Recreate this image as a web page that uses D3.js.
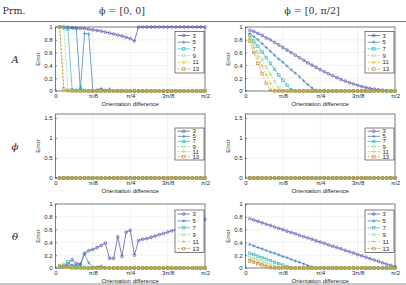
<!DOCTYPE html>
<html><head><meta charset="utf-8">
<script src="https://cdn.jsdelivr.net/npm/d3@7"></script>
<style>body{margin:0;background:#fff}svg{display:block}</style>
</head><body>
<svg id="c" width="406" height="285"></svg>
<script>
// ---------- data ----------
const seriesNames = ["3","5","7","9","11","13"];
const colors = ["#4646a8","#2f7bbf","#3bb3b3","#8fd48c","#d4c02a","#c4893c"];
const markers = ["circle","plus","square","circle","plus","square"];
const dashed = [false,false,false,true,true,true];
const xDeg = d3.range(1,37).map(k=>k*2.5); // 2.5°,5°,...,90°
const xTickLabels = ["0","\u03c0/8","\u03c0/4","3\u03c0/8","\u03c0/2"];
const yTicksA = [0,0.2,0.4,0.6,0.8,1];
const yTicksPhi = [0,0.5,1,1.5];
const colHeaders = ["\u03d5 = [0, 0]","\u03d5 = [0, \u03c0/2]"];
const rowLabels = ["A","\u03d5","\u03b8"];
const z = n => Array(n).fill(0);

// A, phi=[0,0]
const A00 = [
 [1,1,0.995,0.99,0.985,0.98,0.975,0.965,0.955,0.945,0.935,0.92,0.905,0.89,0.875,0.86,0.84,0.82,0.78,1,1,1,1,1,1,1,1,1,1,1,1,1,1,1,1,1],
 [1,0.99,0.99,0.98,0.97,0.02,0.9,0.89,0,0.02,0.04,0.01,0.03].concat(z(23)),
 [1,0.99,0.97,0.02,0.01,0.05,0.01].concat(z(29)),
 [1,0.97,0].concat(z(33)),
 [1,0].concat(z(34)),
 [1,0.03,0.01].concat(z(33))
];
// A, phi=[0,pi/2]
const A0p = [
 [0.95,0.93,0.9,0.87,0.83,0.8,0.76,0.72,0.68,0.64,0.6,0.56,0.52,0.48,0.44,0.405,0.37,0.335,0.3,0.27,0.24,0.21,0.18,0.155,0.13,0.11,0.09,0.07,0.055,0.04,0.03,0.02,0.012,0.005,0,0],
 [0.9,0.85,0.8,0.74,0.68,0.62,0.56,0.5,0.45,0.39,0.33,0.28,0.22,0.16,0.1,0.05,0.01].concat(z(19)),
 [0.87,0.78,0.7,0.61,0.52,0.43,0.34,0.25,0.17,0.09,0.02].concat(z(25)),
 [0.84,0.73,0.61,0.49,0.37,0.26,0.15,0.05,0].concat(z(27)),
 [0.82,0.68,0.53,0.39,0.25,0.12,0.02].concat(z(29)),
 [0.78,0.6,0.43,0.27,0.12,0.01].concat(z(30))
];
// phi rows: all zero
const P00 = seriesNames.map(()=>z(36));
const P0p = seriesNames.map(()=>z(36));
// theta, phi=[0,0]
const T00 = [
 [0.02,0.03,0.06,0.13,0.07,0.06,0.23,0.27,0.29,0.32,0.35,0.39,0.15,0.15,0.49,0.18,0.56,0.59,0.2,0.43,0.45,0.46,0.48,0.5,0.52,0.54,0.56,0.58,0.6,0.62,0.64,0.66,0.68,0.7,0.72,0.76],
 [0.01,0.02,0.03,0.05,0.04,0.05,0.22,0.08,0.01,0.02,0.03,0.01].concat(z(24)),
 [0.01,0.04,0.1,0.03,0.02,0.02,0.01].concat(z(29)),
 [0.02,0.06,0.02,0.01].concat(z(32)),
 [0.02,0.02,0.01].concat(z(33)),
 [0.04,0.02,0.01].concat(z(33))
];
// theta, phi=[0,pi/2]
const T0p = [
 [0.77,0.75,0.73,0.705,0.685,0.665,0.64,0.62,0.6,0.575,0.555,0.535,0.51,0.49,0.47,0.45,0.425,0.405,0.385,0.36,0.34,0.32,0.3,0.275,0.255,0.235,0.21,0.19,0.17,0.145,0.125,0.105,0.08,0.06,0.04,0.02],
 [0.37,0.345,0.32,0.3,0.275,0.25,0.23,0.205,0.18,0.16,0.135,0.11,0.09,0.065,0.04,0.017,0].concat(z(19)),
 [0.23,0.21,0.185,0.16,0.14,0.115,0.09,0.07,0.045,0.02,0].concat(z(25)),
 [0.17,0.15,0.125,0.1,0.08,0.055,0.03,0.01,0].concat(z(27)),
 [0.13,0.11,0.085,0.06,0.04,0.02,0.005].concat(z(29)),
 [0.11,0.09,0.065,0.045,0.025,0.005].concat(z(30))
];

const panels = [
 {row:0,col:0,data:A00,ymax:1,ticks:yTicksA},
 {row:0,col:1,data:A0p,ymax:1,ticks:yTicksA},
 {row:1,col:0,data:P00,ymax:1.6,ticks:yTicksPhi},
 {row:1,col:1,data:P0p,ymax:1.6,ticks:yTicksPhi},
 {row:2,col:0,data:T00,ymax:1,ticks:yTicksA},
 {row:2,col:1,data:T0p,ymax:1,ticks:yTicksA}
];

// ---------- layout ----------
const svg = d3.select("#c");
const colX = [55.5,245.5], pw = 149.5;
const rowY = [27,114,204], ph = 64;
const legH = [41.5,32,42.5], legY = [31.5,128,210];
const legRowH = [6.7,5.1,6.9];
const ink = "#262626";

// header
svg.append("text").attr("x",2.5).attr("y",13.5).attr("font-family","DejaVu Serif, serif")
  .attr("font-size",9.5).attr("fill","#333").text("Prm.");
[122,312].forEach((cx,i)=>svg.append("text").attr("x",cx).attr("y",13.5).attr("text-anchor","middle")
  .attr("font-family","DejaVu Serif, serif").attr("font-size",9.5).attr("fill","#333").text(colHeaders[i]));
svg.append("line").attr("x1",0).attr("x2",406).attr("y1",21.5).attr("y2",21.5).attr("stroke","#777").attr("stroke-width",1.1);
svg.append("line").attr("x1",0).attr("x2",406).attr("y1",284).attr("y2",284).attr("stroke","#777").attr("stroke-width",0.8);

// row labels
rowLabels.forEach((t,i)=>svg.append("text").attr("x",15).attr("y",rowY[i]+ph/2+4)
  .attr("text-anchor","middle").attr("font-family","DejaVu Serif, serif").attr("font-style","italic")
  .attr("font-size",10).attr("fill","#222").text(t));

function marker(g,type,x,y,c){
  if(type==="circle") g.append("circle").attr("cx",x).attr("cy",y).attr("r",1.4).attr("fill","none").attr("stroke",c).attr("stroke-width",0.6);
  else if(type==="square") g.append("rect").attr("x",x-1.3).attr("y",y-1.3).attr("width",2.6).attr("height",2.6).attr("fill","none").attr("stroke",c).attr("stroke-width",0.6);
  else { g.append("path").attr("d",`M${x-1.7},${y}H${x+1.7}M${x},${y-1.7}V${y+1.7}`).attr("stroke",c).attr("stroke-width",0.6); }
}

panels.forEach(p=>{
  const x0 = colX[p.col], y0 = rowY[p.row];
  const g = svg.append("g").attr("transform",`translate(${x0},${y0})`);
  const xs = d3.scaleLinear().domain([0,90]).range([0,pw]);
  const ys = d3.scaleLinear().domain([0,p.ymax]).range([ph,0]);
  // grid
  const xt = [0,22.5,45,67.5,90];
  g.append("g").selectAll("line").data(xt.slice(1,-1)).join("line")
    .attr("x1",d=>xs(d)).attr("x2",d=>xs(d)).attr("y1",0).attr("y2",ph).attr("stroke","#e2e2e2").attr("stroke-width",0.5);
  g.append("g").selectAll("line").data(p.ticks.filter(t=>t>0&&t<p.ymax)).join("line")
    .attr("x1",0).attr("x2",pw).attr("y1",d=>ys(d)).attr("y2",d=>ys(d)).attr("stroke","#e2e2e2").attr("stroke-width",0.5);
  // axes
  const xa = g.append("g").attr("transform",`translate(0,${ph})`)
    .call(d3.axisBottom(xs).tickValues(xt).tickFormat((d,i)=>xTickLabels[i]).tickSizeInner(-1.5).tickSizeOuter(0).tickPadding(3));
  const ya = g.append("g").call(d3.axisLeft(ys).tickValues(p.ticks).tickFormat(d3.format("~g")).tickSizeInner(-1.5).tickSizeOuter(0).tickPadding(3));
  [xa,ya].forEach(a=>{a.select(".domain").remove();a.selectAll("line").attr("stroke",ink).attr("stroke-width",0.5);
    a.selectAll("text").attr("font-family","Liberation Sans, Arial, sans-serif").attr("font-size",6).attr("fill",ink);});
  // box
  g.append("rect").attr("x",0).attr("y",0).attr("width",pw).attr("height",ph).attr("fill","none").attr("stroke",ink).attr("stroke-width",0.6);
  // labels
  g.append("text").attr("x",pw/2).attr("y",ph+14.5).attr("text-anchor","middle").attr("font-family","Liberation Sans, Arial, sans-serif")
    .attr("font-size",6).attr("fill",ink).text("Orientation difference");
  g.append("text").attr("transform",`translate(-15.5,${ph/2}) rotate(-90)`).attr("text-anchor","middle")
    .attr("font-family","Liberation Sans, Arial, sans-serif").attr("font-size",6).attr("fill",ink).text("Error");
  // series
  const line = d3.line().x((d,i)=>xs(xDeg[i])).y(d=>ys(d));
  p.data.forEach((vals,si)=>{
    const c = colors[si];
    g.append("path").attr("d",line(vals)).attr("fill","none").attr("stroke",c).attr("stroke-width",0.7)
      .attr("stroke-dasharray",dashed[si]?"2.2,1.3":null);
    const mg = g.append("g");
    vals.forEach((v,i)=>marker(mg,markers[si],xs(xDeg[i]),ys(v),c));
  });
  // legend
  const lx = pw-30, ly = legY[p.row]-y0, lw = 29, lh = legH[p.row], rh = legRowH[p.row];
  const lg = g.append("g").attr("transform",`translate(${lx},${ly})`);
  lg.append("rect").attr("width",lw).attr("height",lh).attr("fill","#fff").attr("stroke",ink).attr("stroke-width",0.6);
  seriesNames.forEach((n,si)=>{
    const yy = lh/2 + (si-2.5)*rh;
    lg.append("line").attr("x1",2.5).attr("x2",15).attr("y1",yy).attr("y2",yy).attr("stroke",colors[si]).attr("stroke-width",0.7)
      .attr("stroke-dasharray",dashed[si]?"2.2,1.3":null);
    marker(lg,markers[si],8.75,yy,colors[si]);
    lg.append("text").attr("x",17.5).attr("y",yy+2).attr("font-family","Liberation Sans, Arial, sans-serif")
      .attr("font-size",6).attr("fill",ink).text(n);
  });
});
</script>
</body></html>
